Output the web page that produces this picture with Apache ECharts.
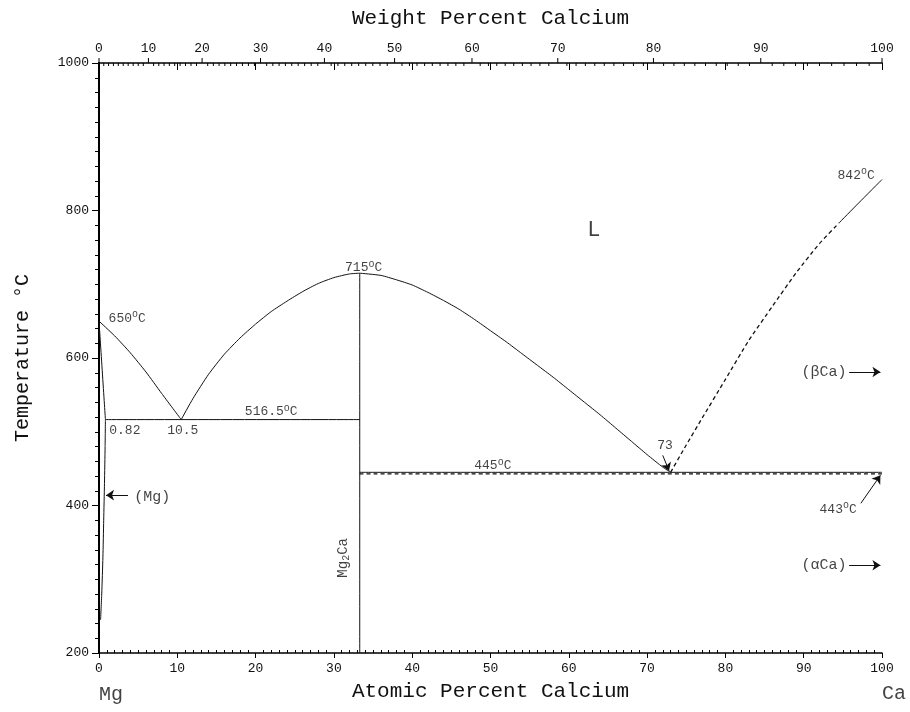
<!DOCTYPE html>
<html>
<head>
<meta charset="utf-8">
<script src="https://cdn.jsdelivr.net/npm/echarts@6/dist/echarts.min.js"></script>
<style>
  html, body { margin: 0; padding: 0; background: #fff; }
  #chart { width: 910px; height: 712px; }
</style>
</head>
<body>
<div id="chart"></div>
<script>
// phase boundaries, [atomic % Ca, temperature °C]
const mgLiquidus = [[0, 650], [2, 630], [4, 607], [6, 581], [8, 552], [10.5, 516.5]];
const mg2caLiqLeft = [[10.5, 516.5], [12, 545], [14, 578], [16, 605], [18, 627], [20, 646], [22, 663],
  [24, 677], [26, 690], [28, 701], [30, 709], [32, 714], [33.3, 715]];
const mg2caLiqRight = [[33.3, 715], [36, 712], [38, 706], [40, 699], [42, 689], [44, 678], [46, 666],
  [48, 652], [50, 637], [52, 622], [54, 606], [56, 590], [58, 574], [60, 557], [62, 540], [64, 523],
  [66, 505], [68, 487], [70, 469], [72, 452], [73, 445]];
const caLiqDashed = [[73, 445], [75, 482], [77, 518], [80, 571], [83, 624], [86, 670], [89, 715], [92, 755], [94.5, 783]];
const caLiqSolid = [[94.5, 783], [97, 810], [100, 842]];
const mgSolidus = [[0, 650], [0.82, 516.5]];
const mgSolvus = [[0.82, 516.5], [0.78, 480], [0.7, 430], [0.6, 380], [0.5, 330], [0.35, 280], [0.2, 245]];
const eutecticMg = [[0.82, 516.5], [33.3, 516.5]];
const eutecticCa = [[33.3, 445], [100, 445]];
const transCa = [[33.3, 443], [100, 443]];
const mg2caLine = [[33.3, 200], [33.3, 715]];

// pointer arrows, tail -> head
const arrows = [
  [[3.7, 414], [0.9, 414]],
  [[95.8, 581], [99.8, 581]],
  [[95.8, 319], [99.8, 319]],
  [[97.3, 403], [99.8, 441]],
  [[72.0, 468], [72.8, 447]]
];

// annotations: [x, T, text, fontSize]
const notes = [
  [3.6, 654, '650{o|o}C', 13],
  [33.8, 722, '715{o|o}C', 13],
  [22.0, 527, '516.5{o|o}C', 13],
  [3.3, 501, '0.82', 13],
  [10.7, 501, '10.5', 13],
  [50.3, 454, '445{o|o}C', 13],
  [72.3, 481, '73', 13],
  [96.7, 848, '842{o|o}C', 13],
  [94.4, 395, '443{o|o}C', 13],
  [92.6, 581, '(βCa)', 15],
  [92.6, 319, '(αCa)', 15],
  [6.8, 411, '(Mg)', 15],
  [63.2, 774, 'L', 22]
];
const compoundLabel = [[31.2, 329, 'Mg{s|2}Ca']];
const elementLabels = [[0, 143, 'Mg'], [100, 145, 'Ca']];

// top axis, weight percent Ca
const weightLabels = [0, 10, 20, 30, 40, 50, 60, 70, 80, 90, 100];
const weightMinorStep = 1;

function wtToAt(w) {
  const ca = w / 40.078, mg = (100 - w) / 24.305;
  return 100 * ca / (ca + mg);
}

const ink = '#111';
const mono = '"Liberation Mono", "DejaVu Sans Mono", monospace';

const weightTicks = [];
for (let w = 0; w <= 100; w += weightMinorStep) weightTicks.push([w, 1000]);

const myChart = echarts.init(document.getElementById('chart'));

function lineSeries(data, dashed) {
  return {
    type: 'line', data: data, showSymbol: false, symbol: 'none', smooth: 0.2,
    lineStyle: { color: ink, width: dashed ? 1.3 : 1, type: dashed ? [4, 3] : 'solid' },
    z: 3, silent: true
  };
}

const richDeg = {
  o: { fontSize: 10, fontFamily: mono, color: ink, padding: [0, 0, 7, 0] },
  s: { fontSize: 10, fontFamily: mono, color: ink, padding: [7, 0, 0, 0] }
};

let option = {
  animation: false,
  backgroundColor: '#fff',
  grid: { left: 99, right: 28, top: 63, bottom: 59 },
  xAxis: [
    {
      type: 'value', min: 0, max: 100, interval: 10, position: 'bottom',
      name: 'Atomic Percent Calcium', nameLocation: 'middle', nameGap: 28,
      nameTextStyle: { fontFamily: mono, fontSize: 21, color: ink },
      axisLine: { lineStyle: { color: '#000', width: 1.5 } },
      axisTick: { length: 5, lineStyle: { color: '#000' } },
      axisLabel: { fontFamily: mono, fontSize: 13, color: ink, margin: 9 },
      splitLine: { show: false }
    },
    {
      type: 'value', min: 0, max: 100, interval: 10, position: 'bottom',
      axisLine: { show: false },
      axisTick: { show: false, inside: true },
      minorTick: { show: true, splitNumber: 10, length: 3, lineStyle: { color: '#000' } },
      axisLabel: { show: false }, splitLine: { show: false }
    },
    {
      type: 'value', min: 0, max: 100, interval: 10, position: 'top',
      name: 'Weight Percent Calcium', nameLocation: 'middle', nameGap: 34,
      nameTextStyle: { fontFamily: mono, fontSize: 21, color: ink },
      axisLine: { lineStyle: { color: '#000', width: 1.5 } },
      axisTick: { inside: true, length: 7, lineStyle: { color: '#000' } },
      axisLabel: { show: false }, splitLine: { show: false }
    }
  ],
  yAxis: [
    {
      type: 'value', min: 200, max: 1000, interval: 200, position: 'left',
      name: 'Temperature °C', nameLocation: 'middle', nameGap: 66,
      nameTextStyle: { fontFamily: mono, fontSize: 20, color: ink },
      axisLine: { lineStyle: { color: '#000', width: 2 } },
      axisTick: { length: 5, lineStyle: { color: '#000' } },
      minorTick: { show: true, splitNumber: 10, length: 3, lineStyle: { color: '#000' } },
      axisLabel: { fontFamily: mono, fontSize: 13, color: ink, margin: 10, formatter: v => String(v) },
      splitLine: { show: false }
    },
    {
      type: 'value', min: 200, max: 1000, interval: 200, position: 'right',
      axisLine: { lineStyle: { color: '#000', width: 1.5 } },
      axisTick: { inside: true, length: 7, lineStyle: { color: '#000' } },
      minorTick: { show: true, splitNumber: 10, length: 4, lineStyle: { color: '#000' } },
      axisLabel: { show: false }, splitLine: { show: false }
    }
  ],
  series: [
    lineSeries(mgLiquidus),
    lineSeries(mg2caLiqLeft),
    lineSeries(mg2caLiqRight),
    lineSeries(caLiqDashed, true),
    lineSeries(caLiqSolid),
    lineSeries(mgSolidus),
    lineSeries(mgSolvus),
    lineSeries(eutecticMg),
    lineSeries(eutecticCa),
    lineSeries(transCa, true),
    lineSeries(mg2caLine),
    {
      type: 'lines', coordinateSystem: 'cartesian2d', silent: true,
      symbol: ['none', 'arrow'], symbolSize: [0, 8],
      lineStyle: { color: ink, width: 1, opacity: 1 },
      data: arrows.map(c => ({ coords: c })), z: 4
    },
    {
      type: 'scatter', symbolSize: 0, silent: true, clip: false,
      data: notes.map(n => ({ value: [n[0], n[1]], text: n[2], label: { fontSize: n[3] } })),
      label: {
        show: true, position: 'inside', color: ink, fontFamily: mono,
        formatter: p => p.data.text,
        rich: richDeg
      },
      z: 5
    },
    {
      type: 'scatter', symbolSize: 0, silent: true, clip: false,
      data: compoundLabel.map(n => ({ value: [n[0], n[1]], text: n[2] })),
      label: {
        show: true, position: 'inside', rotate: 90, color: ink, fontFamily: mono, fontSize: 14,
        formatter: p => p.data.text, rich: richDeg
      },
      z: 5
    },
    {
      type: 'scatter', symbolSize: 0, silent: true, clip: false,
      data: elementLabels.map(n => ({ value: [n[0], n[1]], text: n[2] })),
      label: {
        show: true, position: [0, 0], align: 'left', verticalAlign: 'middle',
        color: ink, fontFamily: mono, fontSize: 20, formatter: p => p.data.text
      },
      z: 5
    },
    {
      type: 'custom', clip: false, silent: true, z: 5,
      data: weightTicks,
      renderItem: function (params, api) {
        const w = api.value(0);
        const p = api.coord([wtToAt(w), 1000]);
        const major = weightLabels.indexOf(w) >= 0;
        const children = [{
          type: 'line',
          shape: { x1: p[0], y1: p[1], x2: p[0], y2: major ? p[1] - 5 : p[1] + 3 },
          style: { stroke: '#000', lineWidth: 1 }
        }];
        if (major) {
          children.push({
            type: 'text',
            style: {
              x: p[0], y: p[1] - 8, text: String(w), align: 'center', verticalAlign: 'bottom',
              font: '13px ' + mono, fill: ink
            }
          });
        }
        return { type: 'group', children: children };
      }
    }
  ]
};

myChart.setOption(option);
window.onresize = () => { myChart.resize(); };
</script>
</body>
</html>
